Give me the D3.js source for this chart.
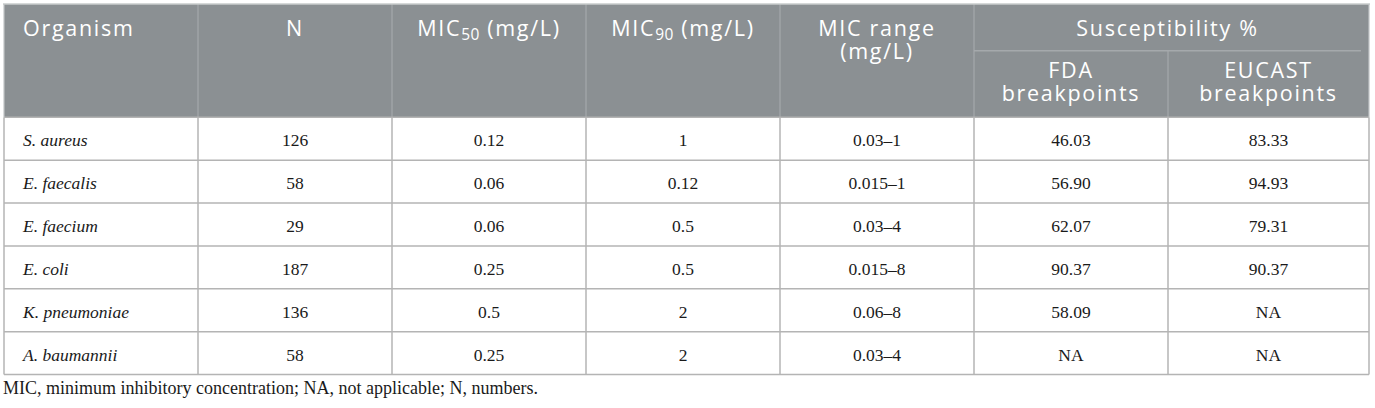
<!DOCTYPE html>
<html>
<head>
<meta charset="utf-8">
<script src="https://cdn.jsdelivr.net/npm/d3@7/dist/d3.min.js"></script>
<style>
  html, body { margin: 0; padding: 0; background: #fff; }
  svg { display: block; }
</style>
</head>
<body>
<svg id="table" width="1375" height="408"></svg>
<script>
// table content
const organisms = ["S. aureus", "E. faecalis", "E. faecium", "E. coli", "K. pneumoniae", "A. baumannii"];
const nValues = ["126", "58", "29", "187", "136", "58"];
const mic50 = ["0.12", "0.06", "0.06", "0.25", "0.5", "0.25"];
const mic90 = ["1", "0.12", "0.5", "0.5", "2", "2"];
const micRange = ["0.03\u20131", "0.015\u20131", "0.03\u20134", "0.015\u20138", "0.06\u20138", "0.03\u20134"];
const fdaPct = ["46.03", "56.90", "62.07", "90.37", "58.09", "NA"];
const eucastPct = ["83.33", "94.93", "79.31", "90.37", "NA", "NA"];
const footnote = "MIC, minimum inhibitory concentration; NA, not applicable; N, numbers.";

const svg = d3.select("#table");

const tLeft = 4, tRight = 1369, tTop = 4, headBottom = 117.3, tBottom = 374.5;
const subLineY = 50.7;
const headerBg = "#8b9093";
const headLine = "#a5a9ac";
const gridLine = "#b4b4b4";
const sansFont = "'Open Sans', sans-serif";
const serifFont = "'Liberation Serif', 'Times New Roman', serif";

// column edges: 7 columns, last one a little wider
const edge = d3.scaleLinear().domain([0, 6]).range([tLeft, 1168]);
const colEdges = d3.range(7).map(i => edge(i)).concat([tRight]);
const colMid = i => (colEdges[i] + colEdges[i + 1]) / 2;

const rowY = d3.scaleBand().domain(organisms).range([headBottom, tBottom]);

// header background
svg.append("rect")
  .attr("x", tLeft).attr("y", tTop)
  .attr("width", tRight - tLeft).attr("height", headBottom - tTop)
  .attr("fill", headerBg);

// header vertical separators (not through the spanned susceptibility header)
colEdges.slice(1, 6).forEach(x => {
  svg.append("line")
    .attr("x1", x).attr("x2", x)
    .attr("y1", tTop).attr("y2", headBottom)
    .attr("stroke", headLine).attr("stroke-width", 1.2);
});
svg.append("line")
  .attr("x1", colEdges[6]).attr("x2", colEdges[6])
  .attr("y1", subLineY).attr("y2", headBottom)
  .attr("stroke", headLine).attr("stroke-width", 1.2);
// line under "Susceptibility %"
svg.append("line")
  .attr("x1", colEdges[5]).attr("x2", tRight - 8)
  .attr("y1", subLineY).attr("y2", subLineY)
  .attr("stroke", headLine).attr("stroke-width", 1.5);

// top border
svg.append("line")
  .attr("x1", tLeft - 1).attr("x2", tRight + 1)
  .attr("y1", tTop).attr("y2", tTop)
  .attr("stroke", "#c9cccd").attr("stroke-width", 1.5);

// header cell text, one <text> per cell, lines as tspans
const headText = (x, y, anchor, lines) => {
  const t = svg.append("text")
    .attr("x", x).attr("y", y)
    .attr("text-anchor", anchor)
    .attr("fill", "#fff")
    .style("font-family", sansFont)
    .style("font-size", "21.5px")
    .style("letter-spacing", "1.7px");
  if (lines) {
    lines.forEach((l, i) => t.append("tspan").attr("x", x).attr("dy", i ? 22.5 : 0).text(l));
  }
  return t;
};

headText(23, 36, "start", ["Organism"]);
headText(colMid(1), 36, "middle", ["N"]);

[["50", 2], ["90", 3]].forEach(([sub, i]) => {
  const t = headText(colMid(i), 36, "middle");
  t.append("tspan").text("MIC");
  t.append("tspan").attr("dy", 4).style("font-size", "15.5px").style("letter-spacing", "0.5px").text(sub);
  t.append("tspan").attr("dy", -4).text(" (mg/L)");
});

headText(colMid(4), 36, "middle", ["MIC range", "(mg/L)"]);
headText((colEdges[5] + tRight - 8) / 2, 36, "middle", ["Susceptibility %"]);
headText(colMid(5), 78, "middle", ["FDA", "breakpoints"]);
headText(colMid(6), 78, "middle", ["EUCAST", "breakpoints"]);

// body grid
organisms.forEach(o => {
  svg.append("line")
    .attr("x1", tLeft).attr("x2", tRight)
    .attr("y1", rowY(o) + rowY.bandwidth()).attr("y2", rowY(o) + rowY.bandwidth())
    .attr("stroke", gridLine).attr("stroke-width", 1.5);
});
svg.append("line")
  .attr("x1", tLeft).attr("x2", tRight)
  .attr("y1", headBottom).attr("y2", headBottom)
  .attr("stroke", gridLine).attr("stroke-width", 1.5);
colEdges.forEach(x => {
  svg.append("line")
    .attr("x1", x).attr("x2", x)
    .attr("y1", headBottom).attr("y2", tBottom)
    .attr("stroke", gridLine).attr("stroke-width", 1.5);
});
// header side borders
[tLeft, tRight].forEach(x => {
  svg.append("line")
    .attr("x1", x).attr("x2", x)
    .attr("y1", tTop).attr("y2", headBottom)
    .attr("stroke", "#c2c5c6").attr("stroke-width", 1.2);
});

// body cells
const columns = [organisms, nValues, mic50, mic90, micRange, fdaPct, eucastPct];
columns.forEach((col, ci) => {
  svg.append("g").selectAll("text")
    .data(col)
    .join("text")
    .attr("x", ci === 0 ? 23 : colMid(ci))
    .attr("y", (d, i) => rowY(organisms[i]) + 29)
    .attr("text-anchor", ci === 0 ? "start" : "middle")
    .attr("fill", "#1a1a1a")
    .style("font-family", serifFont)
    .style("font-size", "17.5px")
    .style("font-style", ci === 0 ? "italic" : "normal")
    .text(d => d);
});

svg.append("text")
  .attr("x", 3).attr("y", 394)
  .attr("fill", "#1a1a1a")
  .style("font-family", serifFont)
  .style("font-size", "18px")
  .text(footnote);
</script>
</body>
</html>
